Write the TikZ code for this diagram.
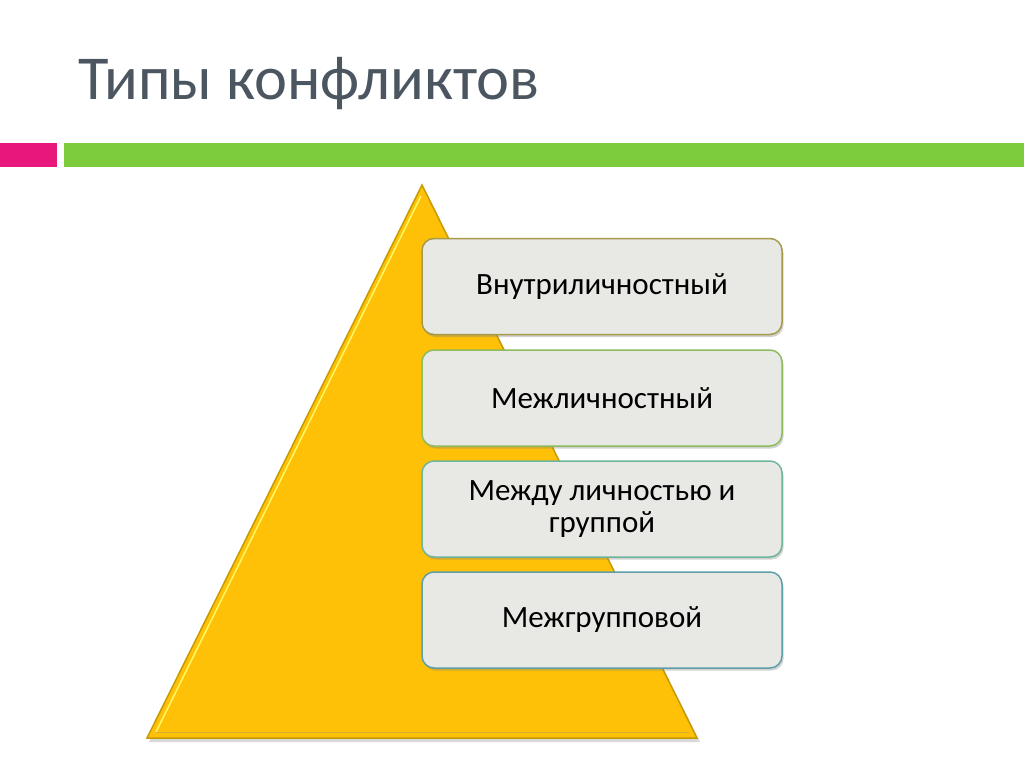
\documentclass[tikz,border=0pt]{standalone}
\usepackage{fontspec}
\setmainfont{Carlito}
\usetikzlibrary{shadows}
\definecolor{titlegray}{HTML}{4B5660}
\definecolor{barpink}{HTML}{E8177C}
\definecolor{bargreen}{HTML}{7DCC3C}
\definecolor{gold}{HTML}{FFC107}
\definecolor{golddark}{HTML}{C79A00}
\definecolor{boxfill}{HTML}{E8E8E5}
\definecolor{bord1}{HTML}{A79A4A}
\definecolor{bord2}{HTML}{8DBB5E}
\definecolor{bord3}{HTML}{6FB59A}
\definecolor{bord4}{HTML}{5E9FA8}
\tikzset{
  lvl/.style={draw=#1, line width=1.5pt, fill=boxfill, rounded corners=12pt,
    minimum width=360pt, minimum height=96pt, align=center, inner sep=0pt,
    font=\fontsize{31}{32}\selectfont, text=black,
    drop shadow={shadow xshift=1.5pt, shadow yshift=-2.5pt, opacity=0.35}},
}
\begin{document}
\begin{tikzpicture}[x=1pt,y=-1pt]
\useasboundingbox (0,0) rectangle (1024,767);
\fill[white] (0,0) rectangle (1024,767);
\node[anchor=base west, text=titlegray, font=\fontsize{62.5}{66}\selectfont, inner sep=0pt] (title) at (78,100) {Типы конфликтов};
\fill[barpink] (0,143) rectangle (57,167);
\fill[bargreen] (64,143) rectangle (1024,167);
% pyramid
\fill[black!30, opacity=0.5] (424,189) -- (700,742) -- (149,742) -- cycle;
\draw[golddark, line width=1.5pt, fill=gold] (422,185) -- (697,738) -- (147,738) -- cycle;
\draw[yellow!60!white, line width=1.5pt] (421,196) -- (156,732);
\draw[golddark!80!white, line width=1pt] (156,732) -- (689,732);
\node[lvl=bord1] (b1) at (602,286.5) {Внутриличностный};
\node[lvl=bord2] (b2) at (602,398) {Межличностный};
\node[lvl=bord3] (b3) at (602,509) {Между личностью и\\группой};
\node[lvl=bord4] (b4) at (602,620) {Межгрупповой};
\end{tikzpicture}
\end{document}
